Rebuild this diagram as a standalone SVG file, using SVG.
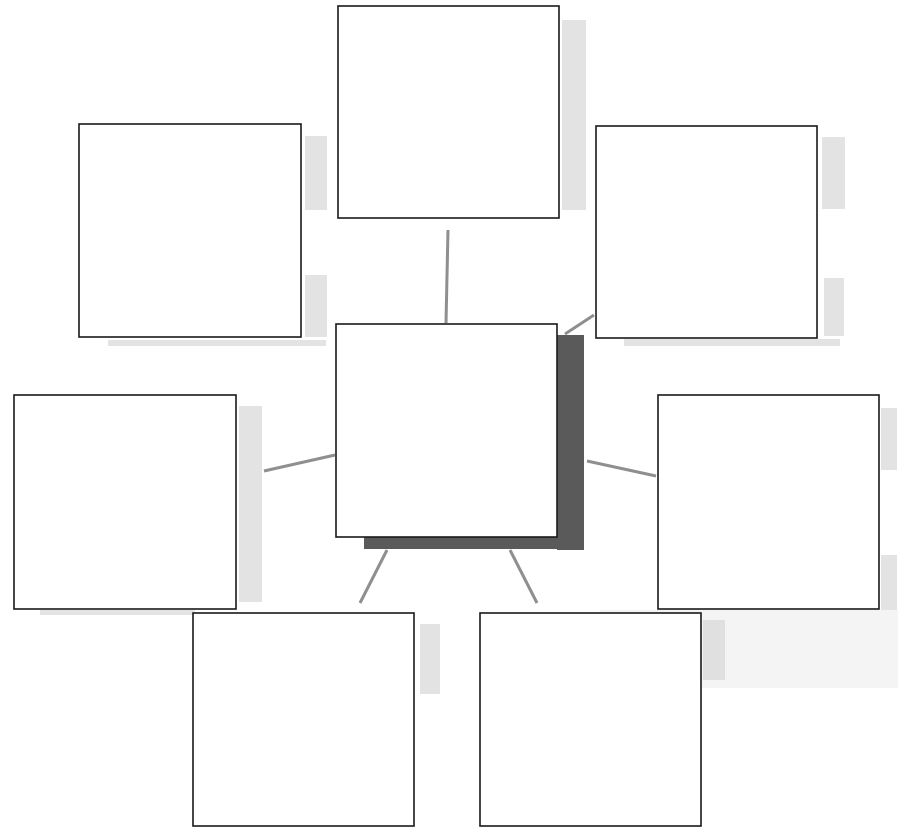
<svg xmlns="http://www.w3.org/2000/svg" width="898" height="828" viewBox="0 0 898 828">
<style>
.box{fill:#fff;stroke:#1a1a1a;stroke-width:1.6}
.conn{stroke:#8f8f8f;stroke-width:3;stroke-linecap:butt;fill:none}
.smudge{fill:#d9d9d9;opacity:0.75}
.shadow{fill:#5a5a5a}
</style>
<rect width="898" height="828" fill="#fff"/>
<g id="smudges">
<rect class="smudge" x="562" y="20" width="24" height="190"/>
<rect class="smudge" x="305" y="136" width="22" height="74"/>
<rect class="smudge" x="305" y="275" width="22" height="62"/>
<rect class="smudge" x="108" y="340" width="218" height="6"/>
<rect class="smudge" x="822" y="137" width="23" height="72"/>
<rect class="smudge" x="824" y="278" width="20" height="58"/>
<rect class="smudge" x="624" y="339" width="216" height="7"/>
<rect class="smudge" x="239" y="406" width="23" height="196"/>
<rect class="smudge" x="40" y="610" width="155" height="5"/>
<rect class="smudge" x="881" y="408" width="16" height="62"/>
<rect class="smudge" x="881" y="555" width="16" height="60"/>
<rect class="smudge" x="700" y="610" width="197" height="8"/>
<rect x="600" y="610" width="298" height="78" fill="#f4f4f4"/>
<rect class="smudge" x="420" y="624" width="20" height="70"/>
<rect class="smudge" x="703" y="620" width="22" height="60"/>
</g>
<g id="connectors">
<line class="conn" x1="448" y1="230" x2="446" y2="323"/>
<line class="conn" x1="565" y1="334" x2="594" y2="315"/>
<line class="conn" x1="264" y1="471" x2="335" y2="455"/>
<line class="conn" x1="587" y1="461" x2="656" y2="476"/>
<line class="conn" x1="387" y1="550" x2="360" y2="603"/>
<line class="conn" x1="510" y1="550" x2="537" y2="603"/>
</g>
<g id="node-top"><rect class="box" x="338" y="6" width="221" height="212"/></g>
<g id="node-top-left"><rect class="box" x="79" y="124" width="222" height="213"/></g>
<g id="node-top-right"><rect class="box" x="596" y="126" width="221" height="212"/></g>
<g id="node-center">
<rect class="shadow" x="557" y="335" width="27" height="215"/>
<rect class="shadow" x="364" y="537" width="220" height="12"/>
<rect class="box" x="336" y="324" width="221" height="213"/>
</g>
<g id="node-left"><rect class="box" x="14" y="395" width="222" height="214"/></g>
<g id="node-right"><rect class="box" x="658" y="395" width="221" height="214"/></g>
<g id="node-bottom-left"><rect class="box" x="193" y="613" width="221" height="213"/></g>
<g id="node-bottom-right"><rect class="box" x="480" y="613" width="221" height="213"/></g>
</svg>
